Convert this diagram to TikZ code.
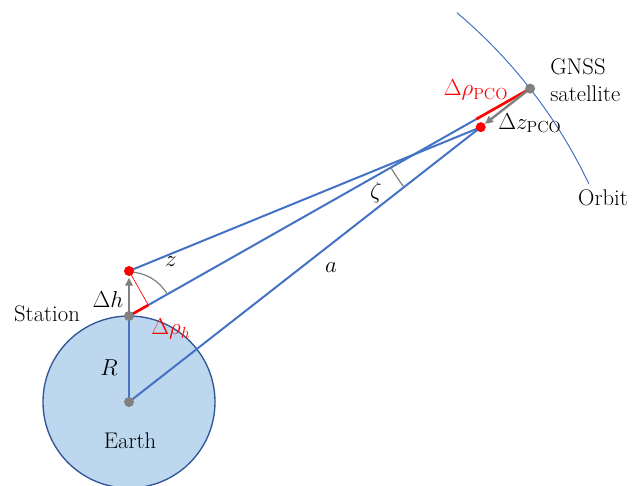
\documentclass[tikz,border=0pt]{standalone}
\usetikzlibrary{calc,arrows.meta}
\definecolor{lineblue}{RGB}{68,114,196}
\definecolor{earthfill}{RGB}{189,215,238}
\definecolor{earthedge}{RGB}{47,85,151}
\definecolor{dotgray}{RGB}{128,128,128}
\begin{document}
\begin{tikzpicture}[x=0.75pt,y=0.75pt,
  blueline/.style={draw=lineblue,line width=1.5pt},
  redseg/.style={draw=red,line width=2pt},
  grayarrow/.style={draw=dotgray,line width=1.8pt,-{Triangle[length=6pt,width=5.5pt]}},
  grayarc/.style={draw=dotgray,line width=0.9pt},
  graydot/.style={circle,fill=dotgray,inner sep=0pt,minimum size=7.5pt},
  reddot/.style={circle,fill=red,inner sep=0pt,minimum size=7.5pt},
  lbl/.style={font=\fontsize{17}{20}\selectfont,inner sep=0pt},
]
\useasboundingbox (0,0) rectangle (633,486);
\coordinate (C) at (129,84);
\coordinate (S) at (129,170);
\coordinate (P) at (129,215);
\coordinate (G) at ($(C)+(38:509)$);
\coordinate (Q) at ($(C)!0.877!(G)$);
\coordinate (F1) at ($(S)!(P)!(G)$);
\coordinate (F2) at ($(S)!(Q)!(G)$);

\draw[draw=earthedge,fill=earthfill,line width=1pt] (C) circle[radius=86];
\draw[draw=lineblue,line width=0.75pt] ($(C)+(25.4:509)$) arc[start angle=25.4,end angle=49.9,radius=509];
\draw[blueline] (S) -- (C);
\draw[blueline] (C) -- (Q);
\draw[blueline] (P) -- (Q);
\draw[blueline] (S) -- (F2);
\draw[redseg] (S) -- (F1);
\draw[redseg] (F2) -- (G);
\draw[draw=red,line width=0.5pt] (P) -- (F1);
\draw[grayarc] ($(S)+(90:44)$) arc[start angle=90,end angle=29.55,radius=44];
\draw[grayarc] ($(G)+(218:160)$) arc[start angle=218,end angle=209.55,radius=160];
\draw[grayarrow, shorten >=5pt] (S) -- (P);
\draw[grayarrow, shorten >=4pt] (G) -- (Q);

\node[graydot] (nC) at (C) {};
\node[graydot] (nS) at (S) {};
\node[graydot] (nG) at (G) {};
\node[reddot] (nP) at (P) {};
\node[reddot] (nQ) at (Q) {};

\node[lbl] (tStation) at (47,172) {Station};
\node[lbl] (tdh) at (108,186) {$\Delta h$};
\node[lbl] (tz) at (171,224) {$z$};
\node[lbl,text=red] (tdrh) at (171,157) {$\Delta\rho_h$};
\node[lbl] (tR) at (109,118) {$R$};
\node[lbl] (tEarth) at (130,45) {Earth};
\node[lbl] (ta) at (331,218) {$a$};
\node[lbl] (tzeta) at (376,293) {$\zeta$};
\node[lbl,anchor=west,align=left] (tGNSS) at (550,406) {GNSS\\satellite};
\node[lbl,text=red] (tdrpco) at (476,396) {$\Delta\rho_{\mathrm{PCO}}$};
\node[lbl] (tdzpco) at (530,363) {$\Delta z_{\mathrm{PCO}}$};
\node[lbl] (tOrbit) at (603,288) {Orbit};
\end{tikzpicture}
\end{document}
